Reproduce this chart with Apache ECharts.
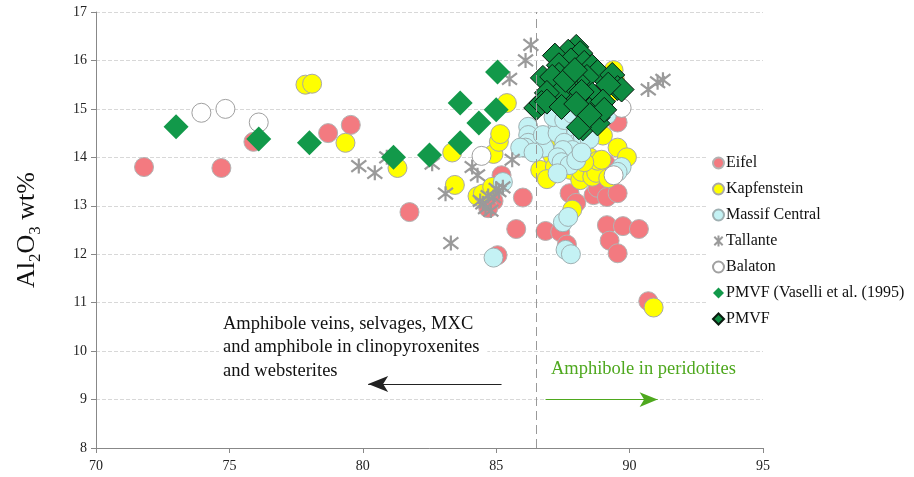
<!DOCTYPE html>
<html>
<head>
<meta charset="utf-8">
<script src="https://cdn.jsdelivr.net/npm/echarts@6/dist/echarts.min.js"></script>
<style>html,body{margin:0;padding:0;background:#fff;}#c{width:914px;height:477px;}</style>
</head>
<body>
<div id="c"></div>
<script>
// ---- data (x = Mg#, y = Al2O3 wt%) ----
const seriesNames = ['Eifel', 'Kapfenstein', 'Massif Central', 'Tallante', 'Balaton', 'PMVF (Vaselli et al. (1995)', 'PMVF'];
const xTicks = [70, 75, 80, 85, 90, 95];
const yTicks = [8, 9, 10, 11, 12, 13, 14, 15, 16, 17];

const eifel = [[71.8,13.8],[74.7,13.78],[75.9,14.32],[78.7,14.5],[79.55,14.67],[81.75,12.87],[85.2,13.63],[86.0,13.17],
  [85.75,12.52],[85.05,11.98],[86.85,12.48],[87.4,12.46],[87.65,12.2],[87.75,13.26],[88.0,13.06],[88.65,13.22],[88.8,13.37],
  [89.15,13.18],[89.55,13.26],[89.1,13.88],[89.55,14.72],[89.15,12.6],[89.75,12.58],[90.35,12.52],[89.25,12.28],[89.55,12.02],
  [90.7,11.03],[87.2,14.25],[84.9,13.1],[84.7,12.95]];
const kapfenstein = [[77.85,15.5],[78.1,15.52],[79.35,14.3],[81.3,13.78],[83.35,14.1],[83.45,13.43],[84.3,13.2],[84.5,13.25],
  [84.85,13.39],[84.9,14.07],[85.1,14.32],[85.15,14.48],[85.4,15.12],[86.65,13.74],[86.95,14.2],[87.0,14.4],[87.1,14.05],
  [87.4,14.08],[87.6,13.9],[87.8,13.74],[87.85,12.92],[88.15,13.53],[88.2,13.7],[88.4,14.36],[88.5,14.0],[88.6,13.6],
  [88.75,13.68],[88.8,13.93],[88.95,13.95],[89.0,14.45],[89.2,13.57],[89.55,14.2],[89.9,14.0],[89.4,15.8],[89.55,15.35],
  [89.2,15.22],[89.45,15.6],[90.9,10.9],[86.7,14.3],[87.2,13.8],[88.0,14.2],[86.9,13.55],[88.3,13.9]];
const massifCentral = [[84.9,11.93],[85.25,13.49],[86.2,14.63],[86.2,14.46],[86.2,14.3],[86.1,14.2],[85.9,14.2],[86.8,14.2],
  [86.75,14.46],[87.3,14.67],[87.3,14.5],[87.15,14.83],[87.55,14.77],[87.85,14.9],[88.0,14.52],[88.05,14.3],[88.25,14.42],
  [88.5,14.38],[88.8,14.83],[89.15,14.88],[88.45,15.0],[87.55,14.3],[87.85,14.15],[87.5,14.15],[87.3,14.0],[87.45,13.9],
  [87.75,13.84],[88.0,13.94],[87.3,13.67],[89.7,13.8],[89.55,13.7],[87.5,12.66],[87.7,12.77],[87.6,12.09],[87.8,12.0],
  [88.2,14.1],[86.4,14.1]];
const tallante = [[79.85,13.82],[80.45,13.68],[80.9,14.0],[82.6,13.87],[83.1,13.25],[83.3,12.23],[84.1,13.8],[84.3,13.63],
  [84.5,13.05],[84.4,13.1],[84.8,12.9],[84.6,12.95],[84.9,13.18],[85.1,13.3],[85.25,13.38],[85.6,13.95],[85.5,15.62],
  [86.1,16.0],[86.3,16.32],[90.7,15.4],[91.05,15.55],[91.25,15.6],[84.7,13.2],[85.0,13.35]];
const balaton = [[73.95,14.92],[74.85,15.0],[76.1,14.72],[84.45,14.03],[89.7,15.02],[89.4,13.63]];
const pmvfVaselli = [[73.0,14.63],[76.1,14.38],[78.0,14.3],[81.15,14.0],[82.5,14.05],[83.65,15.12],[83.65,14.3],
  [84.35,14.71],[85.0,14.98],[85.05,15.76]];
const pmvf = [[88.0,16.28],[87.7,16.18],[87.2,16.1],[88.15,16.15],[87.8,16.0],[87.35,15.9],[88.3,15.95],[87.35,15.7],
  [86.75,15.64],[87.1,15.66],[88.6,15.87],[88.8,15.76],[88.4,15.66],[89.35,15.7],[89.55,15.43],[89.7,15.4],[89.2,15.5],
  [88.05,15.56],[87.75,15.46],[87.9,15.29],[88.6,15.29],[87.3,15.29],[86.9,15.33],[86.5,15.02],[86.7,15.12],[86.9,15.15],
  [87.45,15.04],[88.5,14.98],[88.8,14.82],[88.25,14.6],[88.8,14.7],[89.0,15.15],[89.05,14.98],[88.1,14.62],[88.5,14.87],
  [87.6,15.6],[88.2,15.35],[87.95,15.8],[88.0,15.1]];
const boundaryX = 86.5;
const leftArrow = [[85.2, 9.32], [80.2, 9.32]];
const rightArrow = [[86.85, 9.0], [91.05, 9.0]];
const leftText = ['Amphibole veins, selvages, MXC', 'and amphibole in clinopyroxenites', 'and websterites'];
const leftTextAt = [74.76, 10.8];
const rightText = 'Amphibole in peridotites';
const rightTextAt = [87.05, 9.82];

// ---- chart ----
const serif = '"Liberation Serif", "Times New Roman", serif';
const star = 'path://M5,0L5,10M1.2,1.2L8.8,8.8M1.2,8.8L8.8,1.2';
const chart = echarts.init(document.getElementById('c'), null, {renderer: 'canvas'});

function circleSeries(name, data, fill, border) {
  return {name, type: 'scatter', data, symbol: 'circle', symbolSize: 19,
    itemStyle: {color: fill, borderColor: border, borderWidth: 1, opacity: 1}};
}

const option = {
  animation: false,
  backgroundColor: '#fff',
  grid: {left: 96, right: 151, top: 12, bottom: 29, containLabel: false},
  legend: {
    orient: 'vertical', left: 706, top: 150,
    data: seriesNames,
    itemWidth: 11, itemHeight: 11, itemGap: 8,
    backgroundColor: '#fff', padding: [4, 4, 4, 6],
    textStyle: {fontFamily: serif, fontSize: 16, color: '#111', padding: [0, 0, 0, -3], lineHeight: 18}
  },
  xAxis: {
    type: 'value', min: xTicks[0], max: xTicks[xTicks.length - 1], interval: 5,
    axisLine: {show: true, onZero: false, lineStyle: {color: '#888', width: 1}},
    axisTick: {show: true, length: 5, lineStyle: {color: '#888'}},
    axisLabel: {fontFamily: serif, fontSize: 14, color: '#222', margin: 11},
    splitLine: {show: false}
  },
  yAxis: {
    type: 'value', min: yTicks[0], max: yTicks[yTicks.length - 1], interval: 1,
    name: '{a|Al}{s|2}{a|O}{s|3}{a| wt%}',
    nameLocation: 'middle', nameGap: 52, nameRotate: 90,
    nameTextStyle: {rich: {
      a: {fontFamily: serif, fontSize: 26, color: '#111', lineHeight: 34, verticalAlign: 'middle'},
      s: {fontFamily: serif, fontSize: 17, color: '#111', lineHeight: 17, verticalAlign: 'bottom'}
    }},
    axisLine: {show: true, lineStyle: {color: '#888', width: 1}},
    axisTick: {show: true, length: 5, lineStyle: {color: '#888'}},
    axisLabel: {fontFamily: serif, fontSize: 14, color: '#222', margin: 9},
    splitLine: {show: true, lineStyle: {color: '#d8d8d8', type: [4, 2], width: 1}}
  },
  series: [
    Object.assign(circleSeries(seriesNames[0], eifel, '#f37a80', '#b3b3b3'), {
      markLine: {
        silent: true, symbol: 'none', animation: false,
        label: {show: false},
        lineStyle: {color: '#999', type: [9, 5], width: 1},
        data: [{xAxis: boundaryX}]
      }
    }),
    circleSeries(seriesNames[1], kapfenstein, '#ffff00', '#a8a8a8'),
    circleSeries(seriesNames[2], massifCentral, '#c4f2f4', '#9fb0b2'),
    {name: seriesNames[3], type: 'scatter', data: tallante, symbol: star, symbolSize: 15,
      itemStyle: {color: 'rgba(0,0,0,0)', borderColor: '#9a9a9a', borderWidth: 2.2, opacity: 1}},
    circleSeries(seriesNames[4], balaton, '#ffffff', '#a0a0a0'),
    {name: seriesNames[5], type: 'scatter', data: pmvfVaselli, symbol: 'diamond', symbolSize: [25, 25],
      itemStyle: {color: '#12994a', borderWidth: 0, opacity: 1}},
    {name: seriesNames[6], type: 'scatter', data: pmvf, symbol: 'diamond', symbolSize: [25, 25],
      itemStyle: {color: '#0f8c42', borderColor: '#0a1a0f', borderWidth: 1, opacity: 1}},
    {name: 'arrows', type: 'line', data: [], silent: true,
      markLine: {
        silent: true, animation: false, label: {show: false},
        data: [
          [{coord: leftArrow[0], symbol: 'none', lineStyle: {color: '#222', width: 1, type: 'solid'}},
           {coord: leftArrow[1], symbol: 'arrow', symbolSize: [12, 20]}],
          [{coord: rightArrow[0], symbol: 'none', lineStyle: {color: '#4ea81e', width: 1, type: 'solid'}},
           {coord: rightArrow[1], symbol: 'arrow', symbolSize: [11, 18]}]
        ]
      }}
  ]
};
chart.setOption(option);

const lp = chart.convertToPixel({gridIndex: 0}, leftTextAt);
const rp = chart.convertToPixel({gridIndex: 0}, rightTextAt);
chart.setOption({
  graphic: [
    {type: 'text', left: lp[0] - 4, top: lp[1] - 4, silent: true, z: 1,
      style: {text: leftText.join('\n'), fontFamily: serif, fontSize: 18.5, lineHeight: 23.5, fill: '#111',
        backgroundColor: '#fff', padding: [4, 8, 4, 4]}},
    {type: 'text', left: rp[0], top: rp[1], silent: true,
      style: {text: rightText, fontFamily: serif, fontSize: 18.5, fill: '#4ea81e'}}
  ]
});
</script>
</body>
</html>
